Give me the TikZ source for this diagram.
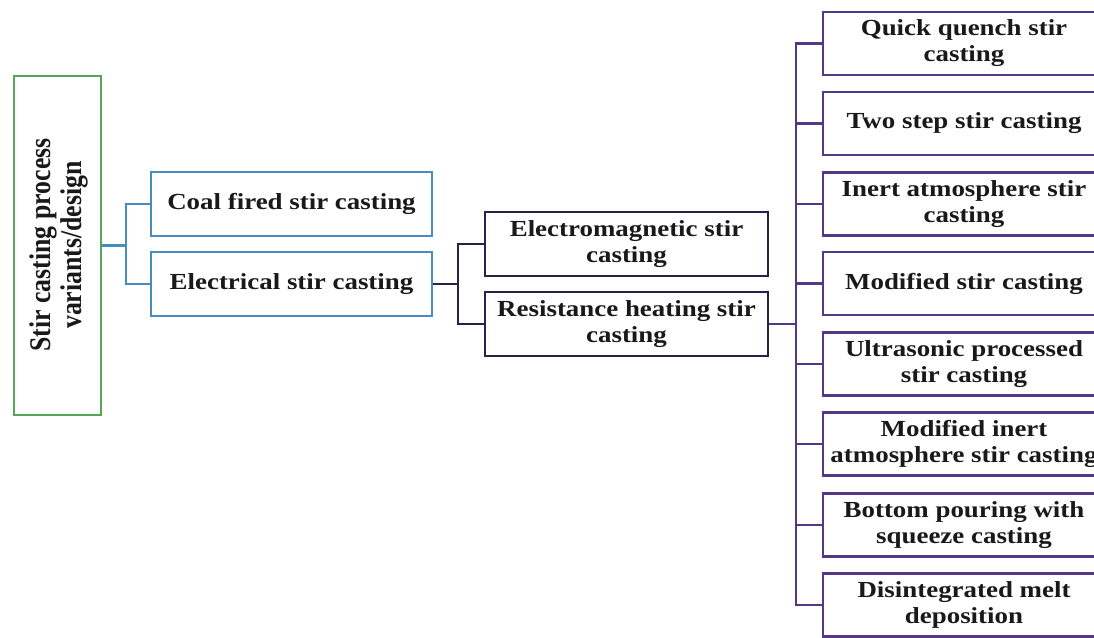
\documentclass[tikz,border=0pt]{standalone}
\usepackage{fontspec}
\setmainfont{Liberation Serif}[FakeStretch=1.17]
\newfontfamily\rootfont{Liberation Serif}[FakeStretch=0.86]
\definecolor{rootgreen}{RGB}{88,165,90}
\definecolor{lvlblue}{RGB}{70,140,190}
\definecolor{lvlnavy}{RGB}{35,35,75}
\definecolor{lvlpurple}{RGB}{85,55,135}
\definecolor{txt}{RGB}{25,25,25}
\tikzset{
  box/.style={draw, fill=white, line width=2.6pt, align=center, inner xsep=1pt, inner ysep=0pt,
    text=txt, font=\fontsize{23}{26}\selectfont\bfseries, anchor=center},
  rootbox/.style={box, draw=rootgreen, minimum width=87pt, minimum height=339pt},
  bluebox/.style={box, draw=lvlblue, minimum width=281pt, minimum height=64pt},
  navybox/.style={box, draw=lvlnavy, minimum width=283pt, minimum height=64pt},
  purplebox/.style={box, draw=lvlpurple, minimum width=282pt, minimum height=63pt},
  conn/.style={line width=2.3pt}
}
\begin{document}
\begin{tikzpicture}[x=1pt,y=-1pt]
\useasboundingbox (0,0) rectangle (1094,637);
\clip (0,0) rectangle (1094,637);
\fill[white] (0,0) rectangle (1094,637);
% root
\node[rootbox] (root) at (57.5,245.5) {};
\node[rotate=90, align=center, text=txt, font=\rootfont\fontsize{30}{31}\selectfont\bfseries] (roottext) at (59,245) {Stir casting process\\variants/design};
% level 1
\node[bluebox] (coal) at (291.5,204) {Coal fired stir casting};
\node[bluebox] (elec) at (291.5,284) {Electrical stir casting};
% level 2
\node[navybox] (emag) at (626.5,244) {Electromagnetic stir\\casting};
\node[navybox] (resh) at (626.5,324) {Resistance heating stir\\casting};
% level 3
\node[purplebox] (q1) at (964,43.5) {Quick quench stir\\casting};
\node[purplebox] (q2) at (964,123.5) {Two step stir casting};
\node[purplebox] (q3) at (964,204) {Inert atmosphere stir\\casting};
\node[purplebox] (q4) at (964,283.5) {Modified stir casting};
\node[purplebox] (q5) at (964,364) {Ultrasonic processed\\stir casting};
\node[purplebox] (q6) at (964,444) {Modified inert\\atmosphere stir casting};
\node[purplebox] (q7) at (964,525) {Bottom pouring with\\squeeze casting};
\node[purplebox] (q8) at (964,605) {Disintegrated melt\\deposition};
% connectors level 0 -> 1
\draw[conn, lvlblue] (root.east) -- (126,245.5) coordinate (j1);
\draw[conn, lvlblue] (coal.west) -| (j1);
\draw[conn, lvlblue] (elec.west) -| (j1);
% level 1 -> 2
\draw[conn, lvlnavy] (elec.east) -- (458,284) coordinate (j2);
\draw[conn, lvlnavy] (emag.west) -| (j2);
\draw[conn, lvlnavy] (resh.west) -| (j2);
% level 2 -> 3
\draw[conn, lvlpurple] (resh.east) -- (796,324) coordinate (j3);
\foreach \n in {q1,q2,q3,q4,q5,q6,q7,q8}
  \draw[conn, lvlpurple] (\n.west) -| (j3);
\end{tikzpicture}
\end{document}
